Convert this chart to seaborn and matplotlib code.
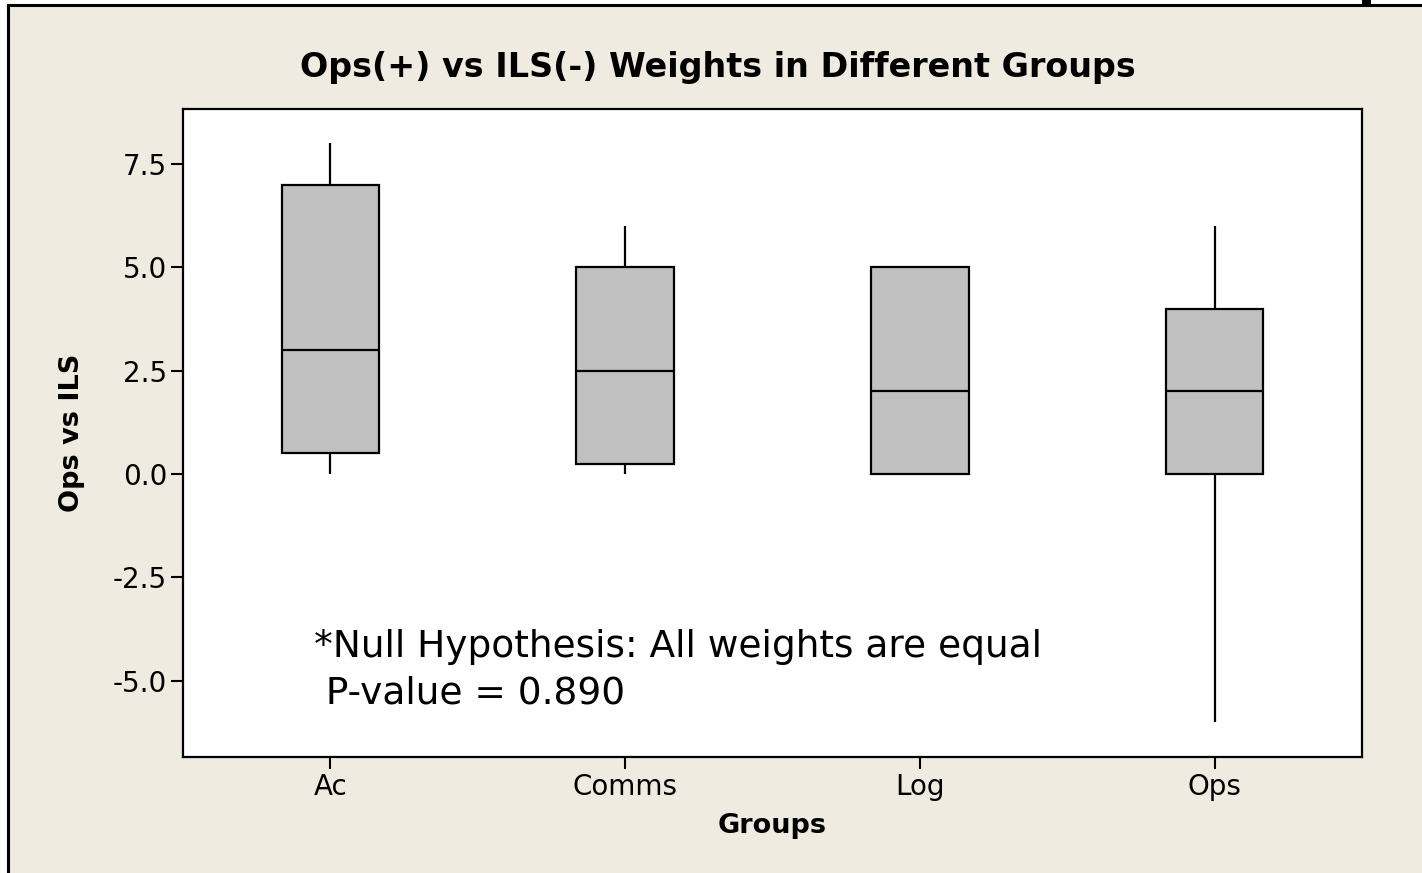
import matplotlib
matplotlib.use("Agg")
import matplotlib.pyplot as plt
from matplotlib.patches import Rectangle
import numpy as np
import pandas as pd
import seaborn as sns

# Five-number summaries (min, Q1, median, Q3, max) for each group
groups = ["Ac", "Comms", "Log", "Ops"]
ac_values = [0.0, 0.5, 3.0, 7.0, 8.0]
comms_values = [0.0, 0.25, 2.5, 5.0, 6.0]
log_values = [0.0, 0.0, 2.0, 5.0, 5.0]
ops_values = [-6.0, 0.0, 2.0, 4.0, 6.0]
y_ticks = [-5.0, -2.5, 0.0, 2.5, 5.0, 7.5]

title = "Ops(+) vs ILS(-) Weights in Different Groups"
note_line1 = "*Null Hypothesis: All weights are equal"
note_line2 = " P-value = 0.890"

df = pd.DataFrame({
    "Groups": np.repeat(groups, 5),
    "Ops vs ILS": ac_values + comms_values + log_values + ops_values,
})

sns.set_style("ticks")
plt.rcParams["font.family"] = ["DejaVu Sans"]
plt.rcParams["text.color"] = "black"
plt.rcParams["axes.labelcolor"] = "black"

W, H = 1422, 873
fig = plt.figure(figsize=(W / 100, H / 100), dpi=100, facecolor="white")

# beige panel with a dark frame, kept behind the axes
fig.patches.append(Rectangle((8 / W, -0.05), 1.1, 1 - 5 / H + 0.05,
                             transform=fig.transFigure, facecolor="#EFEBE1",
                             edgecolor="black", linewidth=2.2, zorder=-10))
fig.patches.append(Rectangle((1362 / W, 1 - 5 / H), 9 / W, 5 / H,
                             transform=fig.transFigure, facecolor="black",
                             edgecolor="none", zorder=-9))

ax = fig.add_axes([183 / W, 1 - 757 / H, (1362 - 183) / W, (757 - 109) / H])
ax.set_facecolor("white")

sns.boxplot(data=df, x="Groups", y="Ops vs ILS", order=groups, ax=ax,
            color="#C0C0C0", saturation=1, linecolor="black", linewidth=1.6,
            width=0.33, whis=(0, 100), showcaps=False, showfliers=False)

ax.set_xlim(-0.5, 3.5)
ax.set_ylim(-6.85, 8.83)
ax.set_yticks(y_ticks)
ax.set_yticklabels([f"{v:.1f}" for v in y_ticks])

for s in ax.spines.values():
    s.set_visible(True)
    s.set_color("black")
    s.set_linewidth(1.6)

ax.tick_params(axis="both", direction="out", length=8.5, width=1.5,
               colors="black", labelsize=20, pad=3)
ax.set_xlabel("Groups", fontsize=19.5, fontweight="bold", labelpad=9)
ax.set_ylabel("Ops vs ILS", fontsize=19.5, fontweight="bold", labelpad=20)

fig.text(718 / W, 1 - 68 / H, title, ha="center", va="center",
         fontsize=24, fontweight="bold")

ax.text(0.111, 0.1543, note_line1, transform=ax.transAxes, ha="left",
        va="baseline", fontsize=27)
ax.text(0.111, 0.0818, note_line2, transform=ax.transAxes, ha="left",
        va="baseline", fontsize=27)

fig.savefig("out.png", dpi=100, facecolor=fig.get_facecolor())
